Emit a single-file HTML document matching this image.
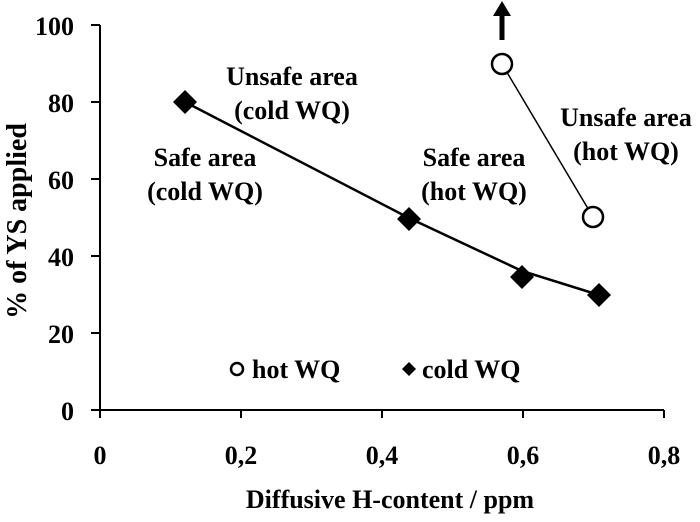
<!DOCTYPE html>
<html><head><style>body{margin:0;background:#fff}</style></head><body>
<svg width="700" height="517" xmlns="http://www.w3.org/2000/svg" font-family="Liberation Serif, serif" font-weight="bold">
<g stroke="#000" stroke-width="2" fill="none">
<line x1="100" y1="25" x2="100" y2="410"/>
<line x1="100" y1="410" x2="664" y2="410"/>
<line x1="91" y1="25" x2="100" y2="25"/><line x1="91" y1="102" x2="100" y2="102"/><line x1="91" y1="179" x2="100" y2="179"/><line x1="91" y1="256" x2="100" y2="256"/><line x1="91" y1="333" x2="100" y2="333"/><line x1="91" y1="410" x2="100" y2="410"/>
<line x1="100" y1="410" x2="100" y2="418"/><line x1="241" y1="410" x2="241" y2="418"/><line x1="382" y1="410" x2="382" y2="418"/><line x1="523" y1="410" x2="523" y2="418"/><line x1="664" y1="410" x2="664" y2="418"/>
<polyline points="185,102 409,218 522,271 599,295" stroke-width="2.5"/>
<line x1="502" y1="64" x2="593" y2="217" stroke-width="1.5"/>
<circle cx="502" cy="64" r="10" stroke-width="2.5" fill="#fff"/>
<circle cx="593" cy="217" r="10" stroke-width="2.5" fill="#fff"/>
<line x1="502" y1="40" x2="502" y2="14" stroke-width="5"/>
<circle cx="237" cy="369" r="6" stroke-width="2.5"/>
</g>
<polygon points="493,16 511,16 502,1" fill="#000"/>
<g fill="#000">
<polygon points="185,90 197,102 185,114 173,102"/>
<polygon points="409,207 421,219 409,231 397,219"/>
<polygon points="522,265 534,277 522,289 510,277"/>
<polygon points="599,283 611,295 599,307 587,295"/>
<polygon points="409,362 416,369 409,376 402,369"/>
</g>
<g font-size="26" text-anchor="end">
<text x="74" y="35">100</text><text x="74" y="112">80</text><text x="74" y="189">60</text><text x="74" y="266">40</text><text x="74" y="343">20</text><text x="74" y="420">0</text>
</g>
<g font-size="26" text-anchor="middle">
<text x="100" y="464">0</text><text x="241" y="464">0,2</text><text x="382" y="464">0,4</text><text x="523" y="464">0,6</text><text x="664" y="464">0,8</text>
<text x="390" y="508">Diffusive H-content / ppm</text>
<text x="292" y="85">Unsafe area</text><text x="292" y="119">(cold WQ)</text>
<text x="205" y="166">Safe area</text><text x="205" y="200">(cold WQ)</text>
<text x="474" y="166">Safe area</text><text x="474" y="200">(hot WQ)</text>
<text x="626" y="126">Unsafe area</text><text x="626" y="160">(hot WQ)</text>
</g>
<text font-size="28" text-anchor="middle" transform="translate(26,221) rotate(-90)">% of YS applied</text>
<g font-size="26">
<text x="252" y="378">hot WQ</text><text x="422" y="378">cold WQ</text>
</g>
</svg>
</body></html>
